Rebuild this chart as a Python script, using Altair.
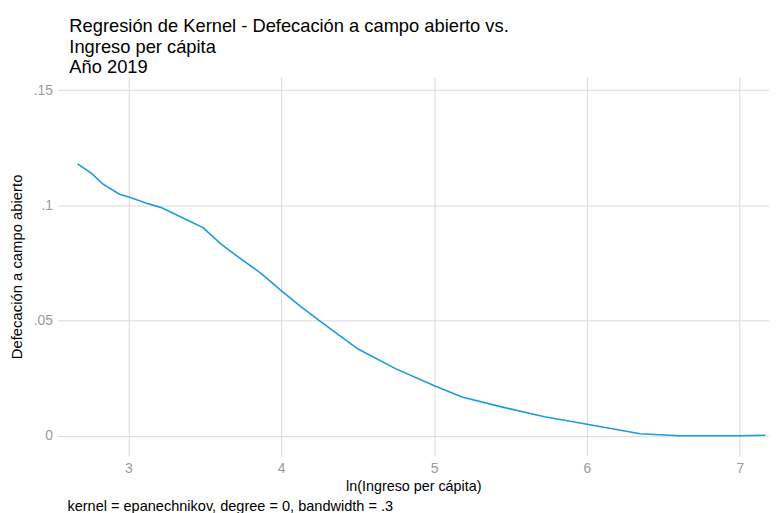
import altair as alt
import pandas as pd

# Kernel regression curve
x_vals = [2.669, 2.766, 2.830, 2.939, 3.014, 3.133, 3.219, 3.392, 3.489, 3.607,
          3.694, 3.866, 4.006, 4.125, 4.254, 4.503, 4.751, 4.999, 5.183, 5.441,
          5.722, 5.992, 6.348, 6.607, 6.995, 7.167]
y_vals = [0.1180, 0.1135, 0.1094, 0.1049, 0.1034, 0.1006, 0.0989, 0.0934, 0.0903, 0.0831,
          0.0788, 0.0705, 0.0626, 0.0562, 0.0497, 0.0376, 0.0290, 0.0218, 0.0168, 0.0125,
          0.0082, 0.0051, 0.0008, 0.0000, 0.0000, 0.0002]

x_ticks = [3, 4, 5, 6, 7]
y_ticks = [0, 0.05, 0.1, 0.15]

title_lines = ["Regresión de Kernel - Defecación a campo abierto vs.",
               "Ingreso per cápita", "Año 2019"]
x_title = "ln(Ingreso per cápita)"
y_title = "Defecación a campo abierto"
footer_text = ["kernel = epanechnikov, degree = 0, bandwidth = .3"]

FONT = "Liberation Sans"
GRID = "#d9d9d9"
LABEL = "#9a9a9a"

df = pd.DataFrame({"x": x_vals, "y": y_vals})

line = alt.Chart(df).mark_line(color="#1f9bd7", strokeWidth=1.6).encode(
    x=alt.X("x:Q",
            scale=alt.Scale(domain=[2.537, 7.191], nice=False, zero=False),
            axis=alt.Axis(values=x_ticks, title=x_title, grid=True, gridColor=GRID,
                          domain=False, ticks=False, labelColor=LABEL, labelFontSize=14,
                          labelFont=FONT, labelPadding=6, titleFont=FONT, titleFontSize=14.5,
                          titleFontWeight="normal", titleColor="black", titlePadding=4)),
    y=alt.Y("y:Q",
            scale=alt.Scale(domain=[-0.0088, 0.1557], nice=False, zero=False),
            axis=alt.Axis(values=y_ticks, title=y_title, grid=True, gridColor=GRID,
                          domain=False, ticks=False, labelColor=LABEL, labelFontSize=14,
                          labelFont=FONT, labelPadding=5,
                          labelExpr="datum.value == 0 ? '0' : substring(format(datum.value, '~g'), 1)",
                          titleFont=FONT, titleFontSize=15, titleFontWeight="normal",
                          titleColor="black", titlePadding=9)),
)

footer = alt.Chart(pd.DataFrame({"t": footer_text})).mark_text(
    align="left", baseline="alphabetic", fontSize=14.7, font=FONT, color="black"
).encode(text="t:N", x=alt.value(10), y=alt.value(439))

chart = alt.layer(line, footer).properties(
    width=719, height=383, background="white",
    title=alt.Title(title_lines, anchor="start", frame="group", fontSize=18.5, font=FONT,
                    fontWeight="normal", color="black", lineHeight=20.8, dx=12, offset=0.3),
    autosize=alt.AutoSizeParams(type="none"),
    padding={"left": 50, "top": 67, "right": 0, "bottom": 55},
).configure_view(stroke=None)

chart.save("out.html", embed_options={"renderer": "svg", "actions": False})
